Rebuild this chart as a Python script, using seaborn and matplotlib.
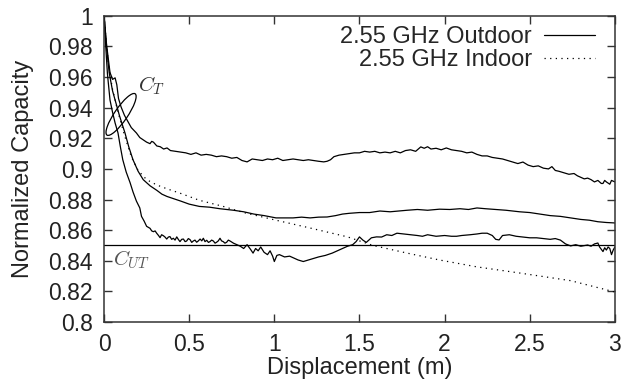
import numpy as np
import pandas as pd
import seaborn as sns
import matplotlib
matplotlib.use("Agg")
import matplotlib.pyplot as plt
from matplotlib.patches import Ellipse
from matplotlib.transforms import ScaledTranslation

# -----------------------------
# Data (displacement m, normalized capacity)
# -----------------------------
outdoor_upper = [
    (0, 1.0), (0.015, 0.981), (0.035, 0.963), (0.05, 0.9585), (0.065, 0.9595), (0.075, 0.955),
    (0.085, 0.946), (0.1, 0.9405), (0.12, 0.935), (0.135, 0.932), (0.16, 0.927), (0.19, 0.9235),
    (0.21, 0.9205), (0.23, 0.919), (0.25, 0.9175), (0.27, 0.9165), (0.28, 0.918), (0.29, 0.9175),
    (0.31, 0.915), (0.33, 0.9145), (0.35, 0.913), (0.37, 0.9137), (0.39, 0.912), (0.42, 0.9115),
    (0.45, 0.911), (0.48, 0.9105), (0.51, 0.9095), (0.54, 0.9105), (0.57, 0.909), (0.6, 0.9095),
    (0.63, 0.909), (0.66, 0.908), (0.69, 0.9085), (0.72, 0.908), (0.75, 0.907), (0.78, 0.9075),
    (0.81, 0.9055), (0.84, 0.9046), (0.87, 0.9065), (0.9, 0.906), (0.93, 0.9055), (0.96, 0.9065),
    (0.99, 0.906), (1.02, 0.907), (1.05, 0.9055), (1.08, 0.906), (1.11, 0.9065), (1.14, 0.906),
    (1.17, 0.9055), (1.2, 0.906), (1.23, 0.9055), (1.26, 0.905), (1.29, 0.9046), (1.31, 0.905),
    (1.33, 0.906), (1.35, 0.908), (1.38, 0.909), (1.41, 0.9095), (1.44, 0.91), (1.47, 0.9105),
    (1.5, 0.9105), (1.53, 0.9115), (1.56, 0.911), (1.59, 0.9115), (1.62, 0.9105), (1.65, 0.911),
    (1.68, 0.9105), (1.71, 0.9115), (1.74, 0.9105), (1.77, 0.912), (1.8, 0.9125), (1.83, 0.9115),
    (1.86, 0.9144), (1.88, 0.9135), (1.9, 0.9145), (1.92, 0.913), (1.95, 0.9135), (1.98, 0.9125),
    (2.01, 0.9137), (2.04, 0.9125), (2.07, 0.912), (2.1, 0.9115), (2.13, 0.9105), (2.16, 0.911),
    (2.19, 0.9095), (2.22, 0.9085), (2.25, 0.9085), (2.28, 0.9075), (2.31, 0.907), (2.34, 0.9065),
    (2.37, 0.9055), (2.4, 0.9045), (2.43, 0.9035), (2.46, 0.9045), (2.49, 0.9025), (2.52, 0.9015),
    (2.55, 0.902), (2.58, 0.9005), (2.61, 0.9), (2.63, 0.9015), (2.65, 0.899), (2.67, 0.8985),
    (2.7, 0.8975), (2.73, 0.8965), (2.76, 0.897), (2.78, 0.8955), (2.8, 0.8945), (2.82, 0.8935),
    (2.84, 0.894), (2.86, 0.893), (2.88, 0.8915), (2.9, 0.8925), (2.92, 0.8905), (2.93, 0.8905),
    (2.94, 0.8925), (2.95, 0.8915), (2.97, 0.89), (2.98, 0.8925), (3.0, 0.8915),
]

outdoor_middle = [
    (0, 1.0), (0.015, 0.979), (0.03, 0.963), (0.05, 0.951), (0.065, 0.945), (0.09, 0.935),
    (0.11, 0.928), (0.123, 0.9235), (0.145, 0.9145), (0.17, 0.906), (0.2, 0.8985), (0.23, 0.893),
    (0.27, 0.889), (0.31, 0.886), (0.34, 0.8835), (0.37, 0.882), (0.41, 0.8805), (0.45, 0.879),
    (0.5, 0.877), (0.56, 0.8755), (0.62, 0.875), (0.68, 0.874), (0.72, 0.8735), (0.76, 0.873),
    (0.82, 0.872), (0.88, 0.8705), (0.94, 0.8695), (1.01, 0.868), (1.06, 0.868), (1.11, 0.868),
    (1.16, 0.8685), (1.21, 0.868), (1.26, 0.8685), (1.31, 0.8686), (1.36, 0.8695), (1.4, 0.8705),
    (1.44, 0.871), (1.5, 0.8715), (1.56, 0.8715), (1.62, 0.8725), (1.68, 0.872), (1.73, 0.8725),
    (1.78, 0.873), (1.84, 0.8735), (1.9, 0.873), (1.97, 0.8737), (2.03, 0.8735), (2.09, 0.874),
    (2.14, 0.8735), (2.19, 0.8745), (2.24, 0.874), (2.3, 0.8735), (2.36, 0.873), (2.4, 0.8725),
    (2.44, 0.872), (2.5, 0.8715), (2.56, 0.8705), (2.62, 0.8695), (2.68, 0.869), (2.74, 0.868),
    (2.8, 0.867), (2.85, 0.8665), (2.9, 0.8655), (2.95, 0.865), (3.0, 0.8647),
]

outdoor_lower = [
    (0, 1.0), (0.01, 0.98), (0.02, 0.962), (0.035, 0.945), (0.05, 0.937), (0.065, 0.93),
    (0.082, 0.9235), (0.095, 0.915), (0.11, 0.906), (0.13, 0.898), (0.153, 0.891), (0.17, 0.885),
    (0.19, 0.879), (0.21, 0.8745), (0.22, 0.869), (0.235, 0.866), (0.25, 0.8625), (0.27, 0.8612),
    (0.28, 0.8595), (0.29, 0.859), (0.3, 0.8595), (0.309, 0.858), (0.32, 0.8565), (0.329, 0.8551),
    (0.338, 0.857), (0.348, 0.8564), (0.358, 0.8555), (0.368, 0.8542), (0.378, 0.8555),
    (0.387, 0.8558), (0.397, 0.854), (0.407, 0.8547), (0.417, 0.8535), (0.427, 0.8556),
    (0.436, 0.854), (0.446, 0.8525), (0.456, 0.854), (0.466, 0.8542), (0.476, 0.8525),
    (0.485, 0.8529), (0.495, 0.8545), (0.505, 0.8538), (0.515, 0.852), (0.524, 0.8529),
    (0.534, 0.8535), (0.544, 0.8521), (0.554, 0.853), (0.564, 0.8542), (0.574, 0.853),
    (0.583, 0.8547), (0.593, 0.8525), (0.603, 0.8534), (0.613, 0.852), (0.622, 0.8525),
    (0.632, 0.8535), (0.642, 0.8529), (0.652, 0.8515), (0.661, 0.8521), (0.671, 0.853),
    (0.681, 0.8547), (0.69, 0.853), (0.7, 0.8525), (0.71, 0.8515), (0.72, 0.8521), (0.73, 0.8535),
    (0.74, 0.8529), (0.76, 0.8515), (0.78, 0.8505), (0.8, 0.8495), (0.82, 0.848), (0.84, 0.8505),
    (0.86, 0.8475), (0.875, 0.845), (0.89, 0.848), (0.905, 0.8465), (0.92, 0.849), (0.94, 0.8455),
    (0.96, 0.844), (0.975, 0.8465), (0.99, 0.843), (1.0, 0.8395), (1.015, 0.8435), (1.03, 0.844),
    (1.06, 0.8425), (1.09, 0.843), (1.11, 0.842), (1.14, 0.8405), (1.17, 0.8395), (1.2, 0.8405),
    (1.23, 0.8415), (1.26, 0.8425), (1.3, 0.8435), (1.34, 0.845), (1.37, 0.8465), (1.4, 0.848),
    (1.43, 0.8495), (1.46, 0.8505), (1.48, 0.8525), (1.5, 0.8556), (1.52, 0.8535), (1.54, 0.852),
    (1.57, 0.855), (1.6, 0.8556), (1.63, 0.8555), (1.66, 0.857), (1.69, 0.8565), (1.72, 0.858),
    (1.76, 0.8575), (1.8, 0.857), (1.84, 0.8565), (1.87, 0.856), (1.9, 0.857), (1.95, 0.856),
    (2.0, 0.8565), (2.04, 0.856), (2.07, 0.856), (2.1, 0.8565), (2.15, 0.857), (2.19, 0.8575),
    (2.22, 0.858), (2.25, 0.858), (2.28, 0.8565), (2.3, 0.854), (2.32, 0.8536), (2.34, 0.8565),
    (2.38, 0.857), (2.42, 0.856), (2.46, 0.8555), (2.5, 0.855), (2.54, 0.855), (2.58, 0.8545),
    (2.62, 0.854), (2.65, 0.8545), (2.68, 0.8535), (2.71, 0.851), (2.74, 0.8497), (2.77, 0.8505),
    (2.8, 0.8495), (2.84, 0.8503), (2.86, 0.8495), (2.88, 0.851), (2.9, 0.8516), (2.91, 0.849),
    (2.93, 0.846), (2.94, 0.8485), (2.95, 0.847), (2.96, 0.849), (2.97, 0.848), (2.98, 0.844),
    (2.99, 0.847), (3.0, 0.849),
]

indoor = [
    (0, 1.0), (0.015, 0.98), (0.03, 0.965), (0.05, 0.952), (0.08, 0.938), (0.12, 0.922),
    (0.16, 0.908), (0.2, 0.899), (0.25, 0.893), (0.31, 0.8895), (0.37, 0.887), (0.45, 0.884),
    (0.56, 0.8795), (0.7, 0.8755), (0.82, 0.8715), (1.01, 0.8665), (1.21, 0.8614), (1.43, 0.8556),
    (1.58, 0.85), (1.78, 0.845), (1.97, 0.8405), (2.19, 0.836), (2.44, 0.832), (2.74, 0.827),
    (3.0, 0.8196),
]

c_ut_level = 0.85
series_labels = ["2.55 GHz Outdoor", "2.55 GHz Indoor"]

x_ticks = [0, 0.5, 1, 1.5, 2, 2.5, 3]
x_tick_labels = ["0", "0.5", "1", "1.5", "2", "2.5", "3"]
y_ticks = [0.8, 0.82, 0.84, 0.86, 0.88, 0.9, 0.92, 0.94, 0.96, 0.98, 1.0]
y_tick_labels = ["0.8", "0.82", "0.84", "0.86", "0.88", "0.9", "0.92", "0.94", "0.96", "0.98", "1"]

# -----------------------------
# Plot
# -----------------------------
sns.set_theme(style="ticks")
plt.rcParams["font.family"] = ["Liberation Sans", "DejaVu Sans"]
plt.rcParams["mathtext.fontset"] = "cm"

fig = plt.figure(figsize=(6.23, 3.87), dpi=100)
ax = fig.add_axes([0.167, 0.168, 0.820, 0.791])


def to_frame(pairs):
    return pd.DataFrame(pairs, columns=["disp", "cap"])


line_kw = dict(color="black", linewidth=0.9, sort=False, ax=ax)
sns.lineplot(data=to_frame(outdoor_upper), x="disp", y="cap", label=series_labels[0], **line_kw)
sns.lineplot(data=to_frame(indoor), x="disp", y="cap", label=series_labels[1],
             linestyle=(0, (1, 3.5)), dash_capstyle="butt", **line_kw)
sns.lineplot(data=to_frame(outdoor_middle), x="disp", y="cap", **line_kw)
sns.lineplot(data=to_frame(outdoor_lower), x="disp", y="cap", **line_kw)

ax.axhline(c_ut_level, color="black", linewidth=0.9)

# ellipse grouping the C_T curves
ell = Ellipse((0, 0), width=0.5, height=0.13, angle=55.7, fill=False,
              edgecolor="black", linewidth=0.9,
              transform=fig.dpi_scale_trans + ScaledTranslation(0.1, 0.9356, ax.transData))
ax.add_patch(ell)

ax.text(0.2, 0.9545, r"$C_T$", fontsize=15, color="#333333", ha="left", va="center")
ax.text(0.05, 0.8405, r"$C_{UT}$", fontsize=15, color="#555555", ha="left", va="center")

ax.set_xlim(0, 3)
ax.set_ylim(0.8, 1.0)
ax.set_xticks(x_ticks, x_tick_labels)
ax.set_yticks(y_ticks, y_tick_labels)
ax.tick_params(direction="in", length=6, width=1, top=True, right=True, pad=8,
               labelsize=16.5, color="#333333", labelcolor="#222222")
for sp in ax.spines.values():
    sp.set_color("#333333")
    sp.set_linewidth(1.1)

ax.set_xlabel("Displacement (m)", fontsize=17, color="#222222", labelpad=1)
ax.set_ylabel("Normalized Capacity", fontsize=17, color="#222222", labelpad=10)

handles, labels = ax.get_legend_handles_labels()
ax.legend(handles, labels, loc="upper right", bbox_to_anchor=(0.961, 0.967),
          frameon=False, markerfirst=False, handlelength=2.16, handletextpad=0.51,
          labelspacing=0.06, borderpad=0, borderaxespad=0, fontsize=17)

fig.savefig("out.png", dpi=100)
